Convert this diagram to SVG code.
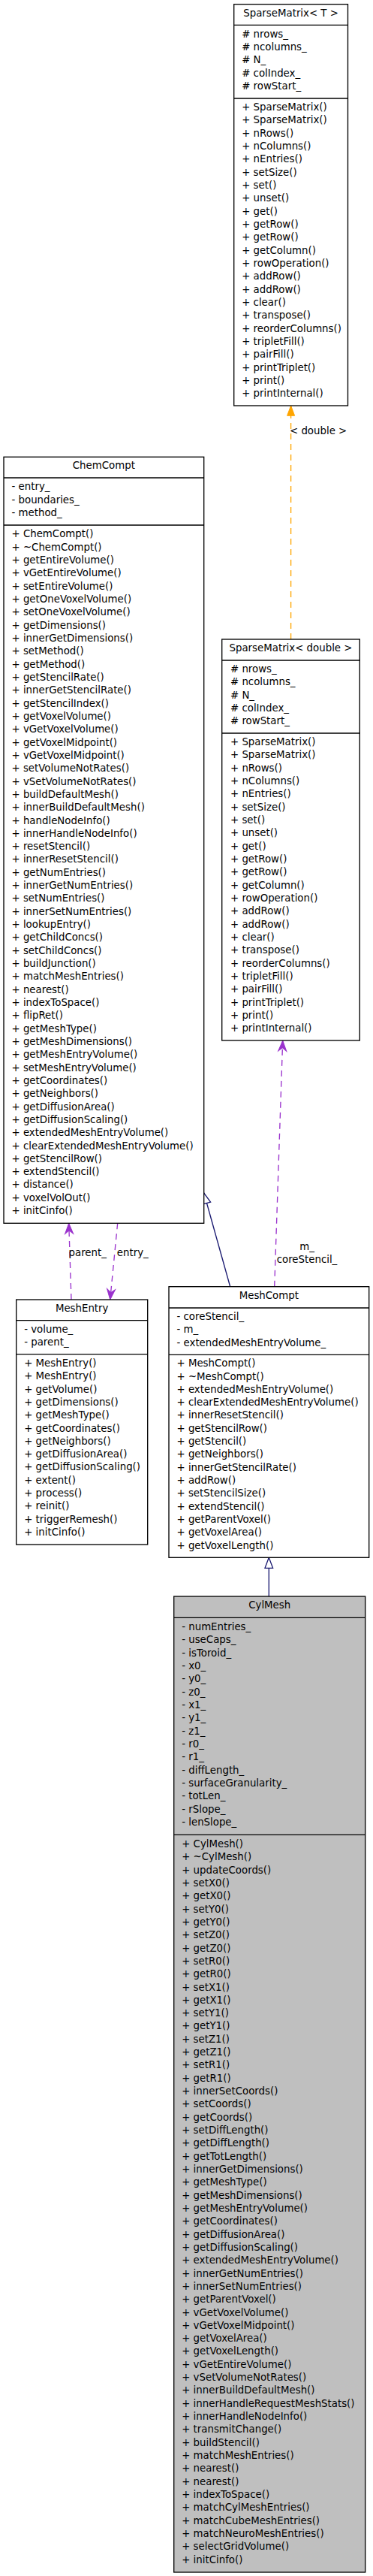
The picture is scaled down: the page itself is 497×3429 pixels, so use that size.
<svg xmlns="http://www.w3.org/2000/svg" width="497" height="3429" viewBox="0 0 497 3429">
<style>
.t{font-family:"DejaVu Sans","Liberation Sans",sans-serif;font-size:13.33px;fill:#000}
.c{text-anchor:middle}
.b{fill:#fff;stroke:#000;stroke-width:1.33}
.g{fill:#bfbfbf}
.s{stroke:#000;stroke-width:1.33}
.use{fill:none;stroke:#9a32cd;stroke-width:1.33;stroke-dasharray:8,6}
.tpl{fill:none;stroke:#ffa500;stroke-width:1.33;stroke-dasharray:8,6}
.inh{fill:none;stroke:#191970;stroke-width:1.33}
</style>
<defs>
<marker id="vee" markerUnits="userSpaceOnUse" orient="auto" refX="0" refY="0" markerWidth="20" markerHeight="20" overflow="visible"><path d="M0,0 L-14,-5.5 L-9.5,0 L-14,5.5 Z" fill="#9a32cd" stroke="#9a32cd" stroke-width="1"/></marker>
<marker id="tri" markerUnits="userSpaceOnUse" orient="auto" refX="0" refY="0" markerWidth="20" markerHeight="20" overflow="visible"><path d="M0,0 L-13.3,-5 L-13.3,5 Z" fill="#ffa500" stroke="#ffa500" stroke-width="1"/></marker>
<marker id="open" markerUnits="userSpaceOnUse" orient="auto" refX="0" refY="0" markerWidth="20" markerHeight="20" overflow="visible"><path d="M0,0 L-14,-5.3 L-14,5.3 Z" fill="#fff" stroke="#191970" stroke-width="1.33"/></marker>
</defs>

<g id="connectors">
<path class="tpl" d="M387.6,851 L387.6,540" marker-end="url(#tri)"/>
<text class="t" x="386" y="578">&lt; double &gt;</text>
<path class="use" d="M365.7,1712.7 L376.7,1385.2" marker-end="url(#vee)"/>
<text class="t c" x="409" y="1663.5">m_</text>
<text class="t c" x="409" y="1680.8">coreStencil_</text>
<path class="inh" d="M306.7,1712.7 L271.7,1588" marker-end="url(#open)"/>
<path class="use" d="M95,1730 L91.7,1628.3" marker-end="url(#vee)"/>
<path class="use" d="M156.7,1628.3 L146.7,1730" marker-end="url(#vee)"/>
<text class="t" x="91.5" y="1672">parent_</text>
<text class="t" x="155.8" y="1672">entry_</text>
<path class="inh" d="M358.3,2125 L358.3,2073.3" marker-end="url(#open)"/>
</g>

<g id="node-SparseMatrixT">
<rect class="b" x="311.7" y="5.7" width="151.8" height="534.3"/>
<line class="s" x1="311.7" y1="33.3" x2="463.5" y2="33.3"/>
<line class="s" x1="311.7" y1="131" x2="463.5" y2="131"/>
<text class="t c" x="387.6" y="22">SparseMatrix&lt; T &gt;</text>
<text class="t" x="322.2" y="49.65"><tspan x="322.2"># nrows_</tspan><tspan x="322.2" dy="17.32"># ncolumns_</tspan><tspan x="322.2" dy="17.32"># N_</tspan><tspan x="322.2" dy="17.32"># colIndex_</tspan><tspan x="322.2" dy="17.32"># rowStart_</tspan></text>
<text class="t" x="322.2" y="147.12"><tspan x="322.2">+ SparseMatrix()</tspan><tspan x="322.2" dy="17.32">+ SparseMatrix()</tspan><tspan x="322.2" dy="17.32">+ nRows()</tspan><tspan x="322.2" dy="17.32">+ nColumns()</tspan><tspan x="322.2" dy="17.32">+ nEntries()</tspan><tspan x="322.2" dy="17.32">+ setSize()</tspan><tspan x="322.2" dy="17.32">+ set()</tspan><tspan x="322.2" dy="17.32">+ unset()</tspan><tspan x="322.2" dy="17.32">+ get()</tspan><tspan x="322.2" dy="17.32">+ getRow()</tspan><tspan x="322.2" dy="17.32">+ getRow()</tspan><tspan x="322.2" dy="17.32">+ getColumn()</tspan><tspan x="322.2" dy="17.32">+ rowOperation()</tspan><tspan x="322.2" dy="17.32">+ addRow()</tspan><tspan x="322.2" dy="17.32">+ addRow()</tspan><tspan x="322.2" dy="17.32">+ clear()</tspan><tspan x="322.2" dy="17.32">+ transpose()</tspan><tspan x="322.2" dy="17.32">+ reorderColumns()</tspan><tspan x="322.2" dy="17.32">+ tripletFill()</tspan><tspan x="322.2" dy="17.32">+ pairFill()</tspan><tspan x="322.2" dy="17.32">+ printTriplet()</tspan><tspan x="322.2" dy="17.32">+ print()</tspan><tspan x="322.2" dy="17.32">+ printInternal()</tspan></text>
</g>

<g id="node-SparseMatrixDouble">
<rect class="b" x="295.7" y="851" width="183.6" height="534"/>
<line class="s" x1="295.7" y1="879" x2="479.3" y2="879"/>
<line class="s" x1="295.7" y1="976" x2="479.3" y2="976"/>
<text class="t c" x="387.5" y="867.1">SparseMatrix&lt; double &gt;</text>
<text class="t" x="307" y="895"><tspan x="307"># nrows_</tspan><tspan x="307" dy="17.32"># ncolumns_</tspan><tspan x="307" dy="17.32"># N_</tspan><tspan x="307" dy="17.32"># colIndex_</tspan><tspan x="307" dy="17.32"># rowStart_</tspan></text>
<text class="t" x="307" y="992.12"><tspan x="307">+ SparseMatrix()</tspan><tspan x="307" dy="17.32">+ SparseMatrix()</tspan><tspan x="307" dy="17.32">+ nRows()</tspan><tspan x="307" dy="17.32">+ nColumns()</tspan><tspan x="307" dy="17.32">+ nEntries()</tspan><tspan x="307" dy="17.32">+ setSize()</tspan><tspan x="307" dy="17.32">+ set()</tspan><tspan x="307" dy="17.32">+ unset()</tspan><tspan x="307" dy="17.32">+ get()</tspan><tspan x="307" dy="17.32">+ getRow()</tspan><tspan x="307" dy="17.32">+ getRow()</tspan><tspan x="307" dy="17.32">+ getColumn()</tspan><tspan x="307" dy="17.32">+ rowOperation()</tspan><tspan x="307" dy="17.32">+ addRow()</tspan><tspan x="307" dy="17.32">+ addRow()</tspan><tspan x="307" dy="17.32">+ clear()</tspan><tspan x="307" dy="17.32">+ transpose()</tspan><tspan x="307" dy="17.32">+ reorderColumns()</tspan><tspan x="307" dy="17.32">+ tripletFill()</tspan><tspan x="307" dy="17.32">+ pairFill()</tspan><tspan x="307" dy="17.32">+ printTriplet()</tspan><tspan x="307" dy="17.32">+ print()</tspan><tspan x="307" dy="17.32">+ printInternal()</tspan></text>
</g>

<g id="node-ChemCompt">
<rect class="b" x="5" y="608.3" width="266.7" height="1020"/>
<line class="s" x1="5" y1="636" x2="271.7" y2="636"/>
<line class="s" x1="5" y1="699" x2="271.7" y2="699"/>
<text class="t c" x="138.35" y="624.3">ChemCompt</text>
<text class="t" x="15.5" y="652.3"><tspan x="15.5">- entry_</tspan><tspan x="15.5" dy="17.32">- boundaries_</tspan><tspan x="15.5" dy="17.32">- method_</tspan></text>
<text class="t" x="15.5" y="715.47"><tspan x="15.5">+ ChemCompt()</tspan><tspan x="15.5" dy="17.32">+ ~ChemCompt()</tspan><tspan x="15.5" dy="17.32">+ getEntireVolume()</tspan><tspan x="15.5" dy="17.32">+ vGetEntireVolume()</tspan><tspan x="15.5" dy="17.32">+ setEntireVolume()</tspan><tspan x="15.5" dy="17.32">+ getOneVoxelVolume()</tspan><tspan x="15.5" dy="17.32">+ setOneVoxelVolume()</tspan><tspan x="15.5" dy="17.32">+ getDimensions()</tspan><tspan x="15.5" dy="17.32">+ innerGetDimensions()</tspan><tspan x="15.5" dy="17.32">+ setMethod()</tspan><tspan x="15.5" dy="17.32">+ getMethod()</tspan><tspan x="15.5" dy="17.32">+ getStencilRate()</tspan><tspan x="15.5" dy="17.32">+ innerGetStencilRate()</tspan><tspan x="15.5" dy="17.32">+ getStencilIndex()</tspan><tspan x="15.5" dy="17.32">+ getVoxelVolume()</tspan><tspan x="15.5" dy="17.32">+ vGetVoxelVolume()</tspan><tspan x="15.5" dy="17.32">+ getVoxelMidpoint()</tspan><tspan x="15.5" dy="17.32">+ vGetVoxelMidpoint()</tspan><tspan x="15.5" dy="17.32">+ setVolumeNotRates()</tspan><tspan x="15.5" dy="17.32">+ vSetVolumeNotRates()</tspan><tspan x="15.5" dy="17.32">+ buildDefaultMesh()</tspan><tspan x="15.5" dy="17.32">+ innerBuildDefaultMesh()</tspan><tspan x="15.5" dy="17.32">+ handleNodeInfo()</tspan><tspan x="15.5" dy="17.32">+ innerHandleNodeInfo()</tspan><tspan x="15.5" dy="17.32">+ resetStencil()</tspan><tspan x="15.5" dy="17.32">+ innerResetStencil()</tspan><tspan x="15.5" dy="17.32">+ getNumEntries()</tspan><tspan x="15.5" dy="17.32">+ innerGetNumEntries()</tspan><tspan x="15.5" dy="17.32">+ setNumEntries()</tspan><tspan x="15.5" dy="17.32">+ innerSetNumEntries()</tspan><tspan x="15.5" dy="17.32">+ lookupEntry()</tspan><tspan x="15.5" dy="17.32">+ getChildConcs()</tspan><tspan x="15.5" dy="17.32">+ setChildConcs()</tspan><tspan x="15.5" dy="17.32">+ buildJunction()</tspan><tspan x="15.5" dy="17.32">+ matchMeshEntries()</tspan><tspan x="15.5" dy="17.32">+ nearest()</tspan><tspan x="15.5" dy="17.32">+ indexToSpace()</tspan><tspan x="15.5" dy="17.32">+ flipRet()</tspan><tspan x="15.5" dy="17.32">+ getMeshType()</tspan><tspan x="15.5" dy="17.32">+ getMeshDimensions()</tspan><tspan x="15.5" dy="17.32">+ getMeshEntryVolume()</tspan><tspan x="15.5" dy="17.32">+ setMeshEntryVolume()</tspan><tspan x="15.5" dy="17.32">+ getCoordinates()</tspan><tspan x="15.5" dy="17.32">+ getNeighbors()</tspan><tspan x="15.5" dy="17.32">+ getDiffusionArea()</tspan><tspan x="15.5" dy="17.32">+ getDiffusionScaling()</tspan><tspan x="15.5" dy="17.32">+ extendedMeshEntryVolume()</tspan><tspan x="15.5" dy="17.32">+ clearExtendedMeshEntryVolume()</tspan><tspan x="15.5" dy="17.32">+ getStencilRow()</tspan><tspan x="15.5" dy="17.32">+ extendStencil()</tspan><tspan x="15.5" dy="17.32">+ distance()</tspan><tspan x="15.5" dy="17.32">+ voxelVolOut()</tspan><tspan x="15.5" dy="17.32">+ initCinfo()</tspan></text>
</g>

<g id="node-MeshEntry">
<rect class="b" x="21.7" y="1730" width="175" height="326"/>
<line class="s" x1="21.7" y1="1757.7" x2="196.7" y2="1757.7"/>
<line class="s" x1="21.7" y1="1802.7" x2="196.7" y2="1802.7"/>
<text class="t c" x="109.2" y="1746">MeshEntry</text>
<text class="t" x="32.2" y="1773.7"><tspan x="32.2">- volume_</tspan><tspan x="32.2" dy="17.32">- parent_</tspan></text>
<text class="t" x="32.2" y="1818.9"><tspan x="32.2">+ MeshEntry()</tspan><tspan x="32.2" dy="17.32">+ MeshEntry()</tspan><tspan x="32.2" dy="17.32">+ getVolume()</tspan><tspan x="32.2" dy="17.32">+ getDimensions()</tspan><tspan x="32.2" dy="17.32">+ getMeshType()</tspan><tspan x="32.2" dy="17.32">+ getCoordinates()</tspan><tspan x="32.2" dy="17.32">+ getNeighbors()</tspan><tspan x="32.2" dy="17.32">+ getDiffusionArea()</tspan><tspan x="32.2" dy="17.32">+ getDiffusionScaling()</tspan><tspan x="32.2" dy="17.32">+ extent()</tspan><tspan x="32.2" dy="17.32">+ process()</tspan><tspan x="32.2" dy="17.32">+ reinit()</tspan><tspan x="32.2" dy="17.32">+ triggerRemesh()</tspan><tspan x="32.2" dy="17.32">+ initCinfo()</tspan></text>
</g>

<g id="node-MeshCompt">
<rect class="b" x="225" y="1712.7" width="266.7" height="360.6"/>
<line class="s" x1="225" y1="1741" x2="491.7" y2="1741"/>
<line class="s" x1="225" y1="1803.3" x2="491.7" y2="1803.3"/>
<text class="t c" x="358.35" y="1729">MeshCompt</text>
<text class="t" x="235.5" y="1757"><tspan x="235.5">- coreStencil_</tspan><tspan x="235.5" dy="17.32">- m_</tspan><tspan x="235.5" dy="17.32">- extendedMeshEntryVolume_</tspan></text>
<text class="t" x="235.5" y="1819.2"><tspan x="235.5">+ MeshCompt()</tspan><tspan x="235.5" dy="17.32">+ ~MeshCompt()</tspan><tspan x="235.5" dy="17.32">+ extendedMeshEntryVolume()</tspan><tspan x="235.5" dy="17.32">+ clearExtendedMeshEntryVolume()</tspan><tspan x="235.5" dy="17.32">+ innerResetStencil()</tspan><tspan x="235.5" dy="17.32">+ getStencilRow()</tspan><tspan x="235.5" dy="17.32">+ getStencil()</tspan><tspan x="235.5" dy="17.32">+ getNeighbors()</tspan><tspan x="235.5" dy="17.32">+ innerGetStencilRate()</tspan><tspan x="235.5" dy="17.32">+ addRow()</tspan><tspan x="235.5" dy="17.32">+ setStencilSize()</tspan><tspan x="235.5" dy="17.32">+ extendStencil()</tspan><tspan x="235.5" dy="17.32">+ getParentVoxel()</tspan><tspan x="235.5" dy="17.32">+ getVoxelArea()</tspan><tspan x="235.5" dy="17.32">+ getVoxelLength()</tspan></text>
</g>

<g id="node-CylMesh">
<rect class="b g" x="231.7" y="2125" width="255" height="1299"/>
<line class="s" x1="231.7" y1="2153.3" x2="486.7" y2="2153.3"/>
<line class="s" x1="231.7" y1="2442.3" x2="486.7" y2="2442.3"/>
<text class="t c" x="359.2" y="2141.3">CylMesh</text>
<text class="t" x="242.2" y="2170.04"><tspan x="242.2">- numEntries_</tspan><tspan x="242.2" dy="17.32">- useCaps_</tspan><tspan x="242.2" dy="17.32">- isToroid_</tspan><tspan x="242.2" dy="17.32">- x0_</tspan><tspan x="242.2" dy="17.32">- y0_</tspan><tspan x="242.2" dy="17.32">- z0_</tspan><tspan x="242.2" dy="17.32">- x1_</tspan><tspan x="242.2" dy="17.32">- y1_</tspan><tspan x="242.2" dy="17.32">- z1_</tspan><tspan x="242.2" dy="17.32">- r0_</tspan><tspan x="242.2" dy="17.32">- r1_</tspan><tspan x="242.2" dy="17.32">- diffLength_</tspan><tspan x="242.2" dy="17.32">- surfaceGranularity_</tspan><tspan x="242.2" dy="17.32">- totLen_</tspan><tspan x="242.2" dy="17.32">- rSlope_</tspan><tspan x="242.2" dy="17.32">- lenSlope_</tspan></text>
<text class="t" x="242.2" y="2459"><tspan x="242.2">+ CylMesh()</tspan><tspan x="242.2" dy="17.32">+ ~CylMesh()</tspan><tspan x="242.2" dy="17.32">+ updateCoords()</tspan><tspan x="242.2" dy="17.32">+ setX0()</tspan><tspan x="242.2" dy="17.32">+ getX0()</tspan><tspan x="242.2" dy="17.32">+ setY0()</tspan><tspan x="242.2" dy="17.32">+ getY0()</tspan><tspan x="242.2" dy="17.32">+ setZ0()</tspan><tspan x="242.2" dy="17.32">+ getZ0()</tspan><tspan x="242.2" dy="17.32">+ setR0()</tspan><tspan x="242.2" dy="17.32">+ getR0()</tspan><tspan x="242.2" dy="17.32">+ setX1()</tspan><tspan x="242.2" dy="17.32">+ getX1()</tspan><tspan x="242.2" dy="17.32">+ setY1()</tspan><tspan x="242.2" dy="17.32">+ getY1()</tspan><tspan x="242.2" dy="17.32">+ setZ1()</tspan><tspan x="242.2" dy="17.32">+ getZ1()</tspan><tspan x="242.2" dy="17.32">+ setR1()</tspan><tspan x="242.2" dy="17.32">+ getR1()</tspan><tspan x="242.2" dy="17.32">+ innerSetCoords()</tspan><tspan x="242.2" dy="17.32">+ setCoords()</tspan><tspan x="242.2" dy="17.32">+ getCoords()</tspan><tspan x="242.2" dy="17.32">+ setDiffLength()</tspan><tspan x="242.2" dy="17.32">+ getDiffLength()</tspan><tspan x="242.2" dy="17.32">+ getTotLength()</tspan><tspan x="242.2" dy="17.32">+ innerGetDimensions()</tspan><tspan x="242.2" dy="17.32">+ getMeshType()</tspan><tspan x="242.2" dy="17.32">+ getMeshDimensions()</tspan><tspan x="242.2" dy="17.32">+ getMeshEntryVolume()</tspan><tspan x="242.2" dy="17.32">+ getCoordinates()</tspan><tspan x="242.2" dy="17.32">+ getDiffusionArea()</tspan><tspan x="242.2" dy="17.32">+ getDiffusionScaling()</tspan><tspan x="242.2" dy="17.32">+ extendedMeshEntryVolume()</tspan><tspan x="242.2" dy="17.32">+ innerGetNumEntries()</tspan><tspan x="242.2" dy="17.32">+ innerSetNumEntries()</tspan><tspan x="242.2" dy="17.32">+ getParentVoxel()</tspan><tspan x="242.2" dy="17.32">+ vGetVoxelVolume()</tspan><tspan x="242.2" dy="17.32">+ vGetVoxelMidpoint()</tspan><tspan x="242.2" dy="17.32">+ getVoxelArea()</tspan><tspan x="242.2" dy="17.32">+ getVoxelLength()</tspan><tspan x="242.2" dy="17.32">+ vGetEntireVolume()</tspan><tspan x="242.2" dy="17.32">+ vSetVolumeNotRates()</tspan><tspan x="242.2" dy="17.32">+ innerBuildDefaultMesh()</tspan><tspan x="242.2" dy="17.32">+ innerHandleRequestMeshStats()</tspan><tspan x="242.2" dy="17.32">+ innerHandleNodeInfo()</tspan><tspan x="242.2" dy="17.32">+ transmitChange()</tspan><tspan x="242.2" dy="17.32">+ buildStencil()</tspan><tspan x="242.2" dy="17.32">+ matchMeshEntries()</tspan><tspan x="242.2" dy="17.32">+ nearest()</tspan><tspan x="242.2" dy="17.32">+ nearest()</tspan><tspan x="242.2" dy="17.32">+ indexToSpace()</tspan><tspan x="242.2" dy="17.32">+ matchCylMeshEntries()</tspan><tspan x="242.2" dy="17.32">+ matchCubeMeshEntries()</tspan><tspan x="242.2" dy="17.32">+ matchNeuroMeshEntries()</tspan><tspan x="242.2" dy="17.32">+ selectGridVolume()</tspan><tspan x="242.2" dy="17.32">+ initCinfo()</tspan></text>
</g>
</svg>
